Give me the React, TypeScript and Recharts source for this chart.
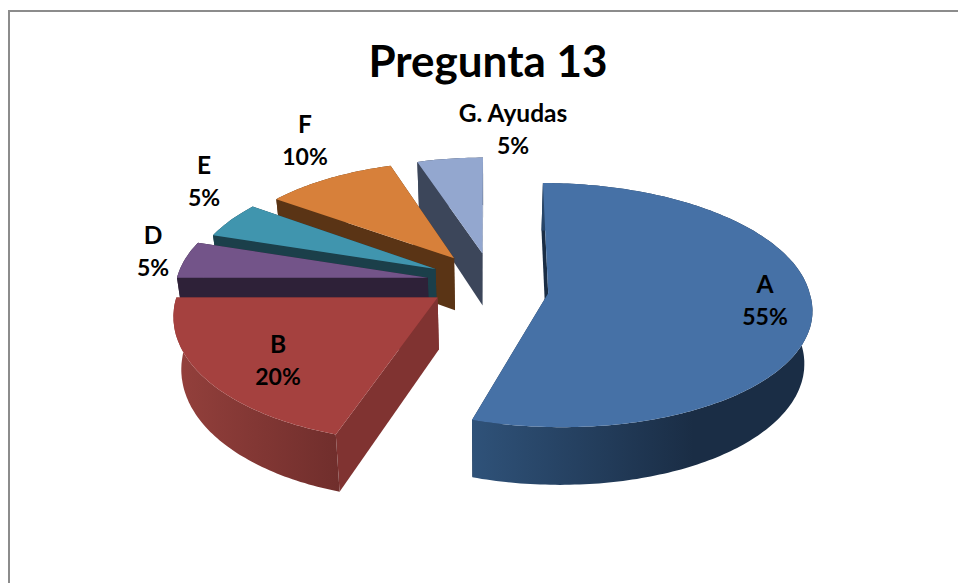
import React from 'react';
import { PieChart, Pie } from 'recharts';

const categories = ['A', 'B', 'D', 'E', 'F', 'G. Ayudas'];
const percents = [55, 20, 5, 5, 10, 5];
const topColors = ['#4671a6', '#a5413f', '#735489', '#4095ae', '#d7803a', '#93a7cf'];
const faceColors = ['#1a2d45', '#803331', '#2e2138', '#1b3f4a', '#5a3415', '#3c465a'];
const rimStart = ['#2f5279', '#94403c', '#2e2138', '#1b3f4a', '#5a3415', '#3c465a'];
const rimEnd = ['#1a2d45', '#702e2c', '#2e2138', '#1b3f4a', '#5a3415', '#3c465a'];
const rimStops = ['65%', '100%', '100%', '100%', '100%', '100%'];
const labelSpots = [
  [765, 293],
  [278, 353],
  [153, 244],
  [204, 174],
  [305, 133],
  [513, 122],
];
// how the 3D view distorts each slice: x scale, y scale, x nudge, y nudge, front lean
const sliceViews = [
  [0.99, 1, 0, 4, 7],
  [0.99, 1.08, -1, -6, -8],
  [0.95, 0.97, 0, -1, 0],
  [0.92, 0.93, 2, 0, 0],
  [0.89, 0.88, 2, 1, 0],
  [0.88, 0.87, 4, 2, 0],
];

// drawn back to front, so the pie starts at the top and runs counter-clockwise from G
const pieData = categories
  .map((name, i) => ({
    name,
    value: percents[i],
    fill: topColors[i],
    face: faceColors[i],
    rimA: rimStart[i],
    rimB: rimEnd[i],
    rimStop: rimStops[i],
    spot: labelSpots[i],
    view: sliceViews[i],
  }))
  .reverse();

const SQUASH = 0.458;
const PERSP = 0.098;
const EXPLODE_X = 61;
const EXPLODE_Y = 33;
const DEPTH = 52;
const BOTTOM_SHRINK = 0.975;

// fake 3D: one exploded slice of a tilted disc, seen with a little perspective
const Slice3D = (props: any) => {
  const { cx, cy, outerRadius: r, startAngle, endAngle, midAngle, payload } = props;
  const [sx, sy, nx, ny, lean] = payload.view;
  const rad = Math.PI / 180;
  const ox = EXPLODE_X * Math.cos(midAngle * rad) + nx;
  const ay = cy - EXPLODE_Y * Math.sin(midAngle * rad) + ny;
  const at = (u: number, v: number, down: number) => {
    const s = 1 / (1 - PERSP * v);
    const x = (ox + r * sx * u) * s + lean * Math.max(v, 0);
    return [
      cx + (down ? x * BOTTOM_SHRINK : x),
      ay + r * SQUASH * sy * v * s + (down ? DEPTH * s : 0),
    ];
  };
  const arc: number[][] = [];
  const steps = Math.ceil(Math.abs(endAngle - startAngle));
  for (let i = 0; i <= steps; i++) {
    const a = (startAngle + ((endAngle - startAngle) * i) / steps) * rad;
    arc.push([Math.cos(a), -Math.sin(a)]);
  }
  const d = (pts: number[][]) => 'M' + pts.map((p) => p[0].toFixed(1) + ',' + p[1].toFixed(1)).join('L') + 'Z';
  const first = arc[0];
  const last = arc[arc.length - 1];
  const apex = at(0, 0, 0);
  const apexLow = at(0, 0, 1);
  const id = 'rim' + payload.name.charAt(0);
  return (
    <g>
      <defs>
        <linearGradient id={id} x1="0" y1="0" x2="1" y2="0">
          <stop offset="0%" stopColor={payload.rimA} />
          <stop offset={payload.rimStop} stopColor={payload.rimB} />
          <stop offset="100%" stopColor={payload.rimB} />
        </linearGradient>
      </defs>
      <path d={d([apex, at(first[0], first[1], 0), at(first[0], first[1], 1), apexLow])} fill={payload.face} />
      <path d={d([apex, at(last[0], last[1], 0), at(last[0], last[1], 1), apexLow])} fill={payload.face} />
      <path
        d={d([...arc.map((p) => at(p[0], p[1], 0)), ...arc.map((p) => at(p[0], p[1], 1)).reverse()])}
        fill={`url(#${id})`}
      />
      <path d={d([apex, ...arc.map((p) => at(p[0], p[1], 0))])} fill={payload.fill} />
    </g>
  );
};

const SliceLabel = (props: any) => {
  const { name, value, payload } = props;
  const spot = payload?.spot || props.spot;
  return (
    <text textAnchor="middle" fontFamily="Lato" fontWeight={700} fontSize={23} fill="#000">
      <tspan x={spot[0]} y={spot[1]} fontSize={24.5}>{name}</tspan>
      <tspan x={spot[0]} y={spot[1] + 32}>{value}%</tspan>
    </text>
  );
};

export default function App() {
  return (
    <div style={{ position: 'absolute', left: 0, top: 0, width: 958, height: 583, background: '#fff', overflow: 'hidden' }}>
      <div style={{ position: 'absolute', left: 8, top: 10, width: 950, height: 573, borderTop: '2px solid #8c8c8c', borderLeft: '2px solid #8c8c8c', boxSizing: 'border-box' }} />
      <div style={{ position: 'absolute', left: 0, top: 0 }}>
        <PieChart width={958} height={583} margin={{ top: 0, right: 0, bottom: 0, left: 0 }}>
          <text x={488} y={77} textAnchor="middle" fontFamily="Lato" fontWeight={700} fontSize={44} fill="#000">
            Pregunta 13
          </text>
          <Pie
            data={pieData}
            dataKey="value"
            nameKey="name"
            cx={488}
            cy={284}
            outerRadius={264}
            startAngle={90}
            endAngle={450}
            stroke="none"
            shape={Slice3D}
            label={SliceLabel}
            labelLine={false}
            isAnimationActive={false}
          />
        </PieChart>
      </div>
    </div>
  );
}
